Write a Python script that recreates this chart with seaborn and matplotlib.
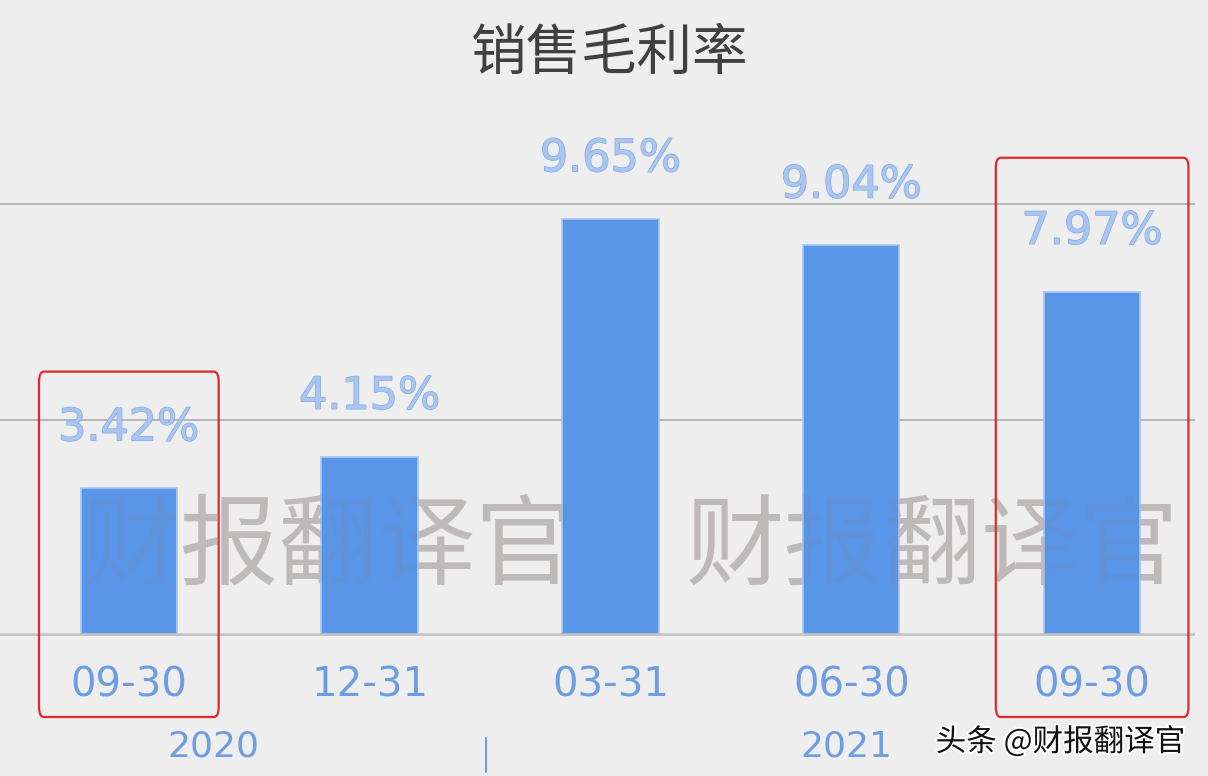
import matplotlib
matplotlib.use("Agg")
import matplotlib.pyplot as plt
import matplotlib.patheffects as pe
from matplotlib.patches import FancyBboxPatch
import seaborn as sns
import pandas as pd

# ---- data ----
periods = ["2020-09-30", "2020-12-31", "2021-03-31", "2021-06-30", "2021-09-30"]
tick_labels = ["09-30", "12-31", "03-31", "06-30", "09-30"]
margins = [3.42, 4.15, 9.65, 9.04, 7.97]
years = ["2020", "2021"]
year_pos = [0.35, 2.98]
highlight = [0, 4]
title = "销售毛利率"
watermark = "财报翻译官"
credit = "头条 @财报翻译官"

sns.set_theme(style="white")
CJK = ["Noto Sans CJK SC", "DejaVu Sans"]
plt.rcParams["font.family"] = CJK

bg = "#eeeeef"
bar_color = "#5a96e7"
tick_color = "#6d9de2"
label_fill = "#a9c6f1"
label_edge = "#86aae4"

fig = plt.figure(figsize=(12.08, 7.76), dpi=100, facecolor=bg)
ax = fig.add_axes([0.0, 0.1804, 0.9892, 0.6681])
ax.set_facecolor(bg)

df = pd.DataFrame({"period": periods, "margin": margins})
sns.barplot(data=df, x="period", y="margin", order=periods, color=bar_color,
            width=0.40, edgecolor="#a8c7f0", linewidth=1.2, saturation=1,
            ax=ax, zorder=3)

ax.set_xlim(-0.535, 4.427)
ax.set_ylim(0, 12)
for s in ax.spines.values():
    s.set_visible(False)
ax.set_yticks([])
ax.set_xlabel("")
ax.set_ylabel("")

# gridlines
for g in [5, 10]:
    ax.axhline(g, color="#a6a6a6", lw=1.1, zorder=1)
ax.axhline(0, color="#c4c4c4", lw=4, zorder=4)

ax.set_xticks(range(len(periods)))
ax.set_xticklabels(tick_labels, color=tick_color, fontsize=29, family=["DejaVu Sans"])
ax.tick_params(axis="x", length=0, pad=21)

# value labels
for i, v in enumerate(margins):
    ax.annotate(f"{v:.2f}%", (i, v), xytext=(0, 28), textcoords="offset points",
                ha="center", va="bottom", fontsize=32, color=label_fill,
                family=["DejaVu Sans"], zorder=6,
                path_effects=[pe.withStroke(linewidth=1.0, foreground=label_edge)])

# year labels
for yr, xp in zip(years, year_pos):
    ax.text(xp, -2.55, yr, ha="center", va="center",
            fontsize=26, color=tick_color, family=["DejaVu Sans"])
ax.plot([1.485, 1.485], [-2.35, -3.15], color=tick_color, lw=1.5, clip_on=False)

# highlight boxes
for i in highlight:
    top = margins[i] + (2.7 if i == 0 else 3.1)
    half = 0.373 if i == 0 else 0.40
    box = FancyBboxPatch((i - half, -1.875), 2 * half, top + 1.875,
                         boxstyle="round,pad=0,rounding_size=0.02",
                         fill=False, edgecolor="#e02a2a", lw=1.6,
                         clip_on=False, zorder=8, mutation_aspect=12)
    ax.add_patch(box)

# title
fig.text(0.505, 0.93, title, ha="center", va="center", fontsize=40,
         color="#404040", family=CJK)

# watermark (behind bars, plus faint overlay)
for xc in [0.272, 0.772]:
    ax.text(xc, 0.293, watermark, transform=fig.transFigure, ha="center",
            va="center", fontsize=71, color="#c6c1c1", family=CJK, zorder=2)
    ax.text(xc, 0.293, watermark, transform=fig.transFigure, ha="center",
            va="center", fontsize=71, color="#8a8080", alpha=0.10, family=CJK,
            zorder=10)

# credit
fig.text(0.981, 0.044, credit, ha="right", va="center", fontsize=22,
         color="#111111", family=CJK, zorder=11,
         path_effects=[pe.withStroke(linewidth=3, foreground="white")])

fig.savefig("out.png", dpi=100, facecolor=bg)
